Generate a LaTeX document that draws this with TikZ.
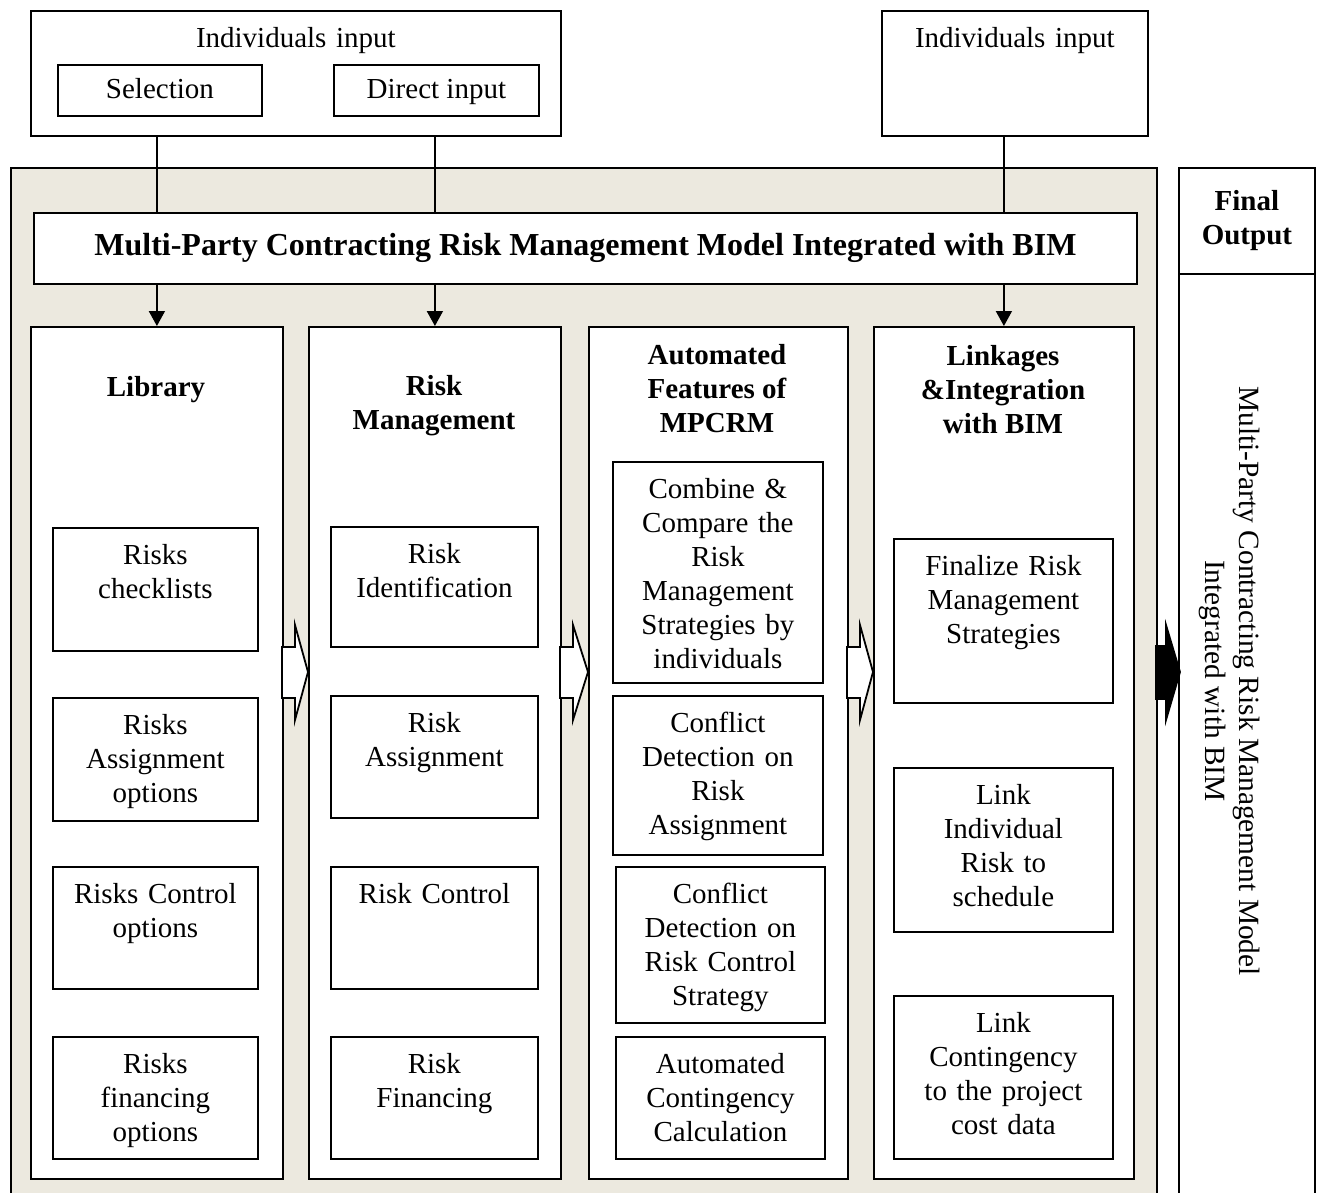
\documentclass[tikz,border=0pt]{standalone}
\usepackage{fontspec}
\setmainfont{Liberation Serif}
\usetikzlibrary{arrows.meta, positioning, calc}
\definecolor{panelbg}{HTML}{ECE9DF}

\begin{document}
\begin{tikzpicture}[
    x=0.5pt, y=-0.5pt,
    line width=0.9pt,
    font=\fontsize{14.5}{17}\selectfont,
    plainbox/.style 2 args={
        draw, fill=white, anchor=north west, inner sep=0pt, align=center,
        minimum width=#1*0.5pt, minimum height=#2*0.5pt
    },
    cell/.style 2 args={
        draw, fill=white, anchor=north west, align=center,
        text width=96pt, inner xsep=2.5pt, inner ysep=4pt,
        minimum width=#1*0.5pt, text height=14.5pt, text depth=#2*0.5pt-22.5pt
    },
    colhead/.style={font=\fontsize{14.5}{17}\selectfont\bfseries, align=center},
    downarrow/.style={-{Triangle[length=7.5pt, width=8pt]}},
    hollow/.style={draw, fill=white, line join=miter},
    filledarrow/.style={draw, fill=black, line join=miter},
]

\useasboundingbox (0,0) rectangle (1317,1193);

% Inputs
\node[cell={530}{125}, text width=250pt] (indl) at (30,10) {Individuals input};
\node[plainbox={204}{51}, text height=11pt, text depth=2.5pt] (sel) at (57,64) {Selection};
\node[plainbox={205}{51}, text height=11pt, text depth=2.5pt] (direct) at (333,64) {Direct input};
\node[cell={266}{125}, text width=125pt] (indr) at (881,10) {Individuals input};

% Model panel
\node[plainbox={1146}{1050}, fill=panelbg] (panel) at (10,167) {};
\node[plainbox={1103}{71}, font=\fontsize{16}{19}\selectfont\bfseries] (title) at (33,212) {Multi-Party Contracting Risk Management Model Integrated with BIM};

% Columns
\node[plainbox={252}{852}] (libcol) at (30,326) {};
\node[plainbox={252}{852}] (rmcol) at (308,326) {};
\node[plainbox={259}{852}] (autocol) at (588,326) {};
\node[plainbox={260}{852}] (linkcol) at (873,326) {};

\node[colhead] (libhead) at (156,390) {Library};
\node[colhead] (rmhead) at (434,406) {Risk\\Management};
\node[colhead] (autohead) at (717,389) {Automated\\Features of\\MPCRM};
\node[colhead] (linkhead) at (1003,390) {Linkages\\\&Integration\\with BIM};

% Final output
\node[plainbox={136}{106}, colhead] (finalhead) at (1178,167) {Final\\Output};
\node[plainbox={136}{940}] (finalbody) at (1178,273) {};
\node[rotate=-90, align=center, font=\fontsize{14.7}{17}\selectfont] (finaltext) at (1230,681) {Multi-Party Contracting Risk Management Model\\Integrated with BIM};

% Library cells
\node[cell={205}{123}] (lib1) at (52,527) {Risks\\checklists};
\node[cell={205}{123}] (lib2) at (52,697) {Risks\\Assignment\\options};
\node[cell={205}{122}] (lib3) at (52,866) {Risks Control\\options};
\node[cell={205}{122}] (lib4) at (52,1036) {Risks\\financing\\options};

% Risk management cells
\node[cell={207}{120}] (rm1) at (330,526) {Risk\\Identification};
\node[cell={207}{122}] (rm2) at (330,695) {Risk\\Assignment};
\node[cell={207}{122}] (rm3) at (330,866) {Risk Control};
\node[cell={207}{122}] (rm4) at (330,1036) {Risk\\Financing};

% Automated cells
\node[cell={210}{221}] (auto1) at (612,461) {Combine \&\\Compare the\\Risk\\Management\\Strategies by\\individuals};
\node[cell={210}{159}] (auto2) at (612,695) {Conflict\\Detection on\\Risk\\Assignment};
\node[cell={209}{156}] (auto3) at (615,866) {Conflict\\Detection on\\Risk Control\\Strategy};
\node[cell={209}{122}] (auto4) at (615,1036) {Automated\\Contingency\\Calculation};

% Linkage cells
\node[cell={219}{164}] (link1) at (893,538) {Finalize Risk\\Management\\Strategies};
\node[cell={219}{164}] (link2) at (893,767) {Link\\Individual\\Risk to\\schedule};
\node[cell={219}{163}] (link3) at (893,995) {Link\\Contingency\\to the project\\cost data};

% Input lines
\draw (libcol |- indl.south) -- (libcol |- title.north);
\draw (rmcol |- indl.south) -- (rmcol |- title.north);
\draw (linkcol |- indr.south) -- (linkcol |- title.north);

% Down arrows
\draw[downarrow] (libcol |- title.south) -- (libcol.north);
\draw[downarrow] (rmcol |- title.south) -- (rmcol.north);
\draw[downarrow] (linkcol |- title.south) -- (linkcol.north);

% Block arrows
\filldraw[hollow] (282,647) -- (295,647) -- (295,625) -- (308,672) -- (295,720) -- (295,698) -- (282,698) -- cycle;
\filldraw[hollow] (560,647) -- (573,647) -- (573,625) -- (588,672) -- (573,720) -- (573,698) -- (560,698) -- cycle;
\filldraw[hollow] (847,647) -- (860,647) -- (860,625) -- (873,672) -- (860,720) -- (860,698) -- (847,698) -- cycle;
\filldraw[filledarrow] (1156,646) -- (1166,646) -- (1166,625) -- (1180,672) -- (1166,720) -- (1166,699) -- (1156,699) -- cycle;

\end{tikzpicture}
\end{document}
